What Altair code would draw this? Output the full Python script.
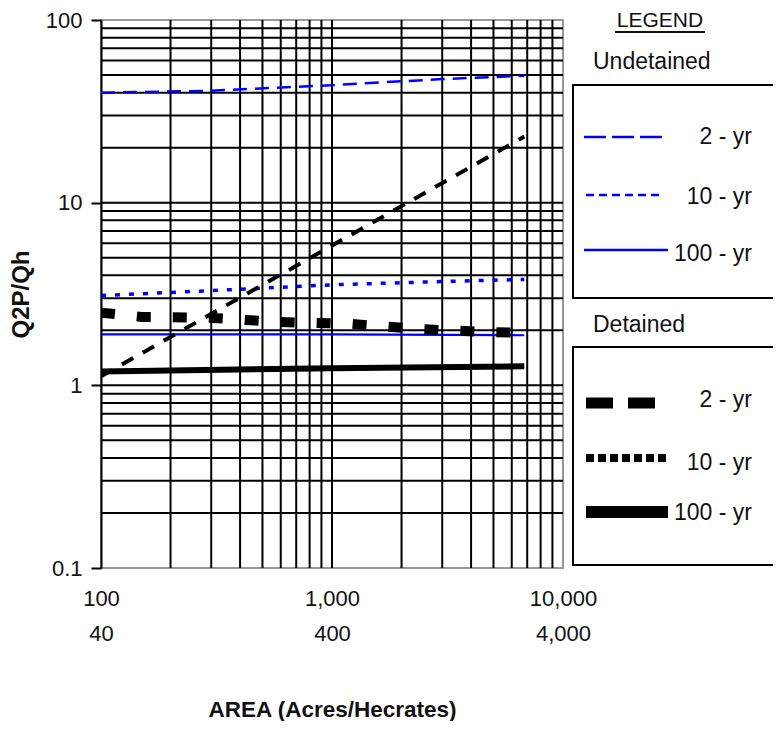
import altair as alt
import pandas as pd

# ---------------- data ----------------
und2_x = [100, 300, 1000, 3000, 6800]
und2_y = [40, 41, 44, 47.5, 49.5]

und10_x = [100, 300, 1000, 3000, 6800]
und10_y = [3.1, 3.3, 3.55, 3.7, 3.8]

und100_x = [100, 1000, 6800]
und100_y = [1.9, 1.9, 1.88]

det2_x = [100, 150, 300, 600, 1200, 2400, 4700, 6800]
det2_y = [2.5, 2.37, 2.34, 2.22, 2.17, 2.03, 1.96, 1.94]

diag_x = [100, 6800]
diag_y = [1.12, 23]

det100_x = [100, 1000, 6800]
det100_y = [1.19, 1.24, 1.27]

x_ticks = [100, 1000, 10000]
x_tick_labels = [["100", "40"], ["1,000", "400"], ["10,000", "4,000"]]
y_ticks = [0.1, 1, 10, 100]
y_tick_labels = ["0.1", "1", "10", "100"]

x_grid = [200, 300, 400, 500, 600, 700, 800, 900, 1000,
          2000, 3000, 4000, 5000, 6000, 7000, 8000, 9000]
y_grid = [0.2, 0.3, 0.4, 0.5, 0.6, 0.7, 0.8, 0.9, 1,
          2, 3, 4, 5, 6, 7, 8, 9, 10,
          20, 30, 40, 50, 60, 70, 80, 90]

legend_title = "LEGEND"
group_titles = ["Undetained", "Detained"]
period_labels = ["2 - yr", "10 - yr", "100 - yr"]

FONT = "Liberation Sans, Arial, sans-serif"
BLUE = "#0000FF"
TXT = "#111111"

# ---------------- axes ----------------
def lab_expr(vals, labs):
    expr = "''"
    for v, l in reversed(list(zip(vals, labs))):
        if isinstance(l, list):
            s = "[" + ",".join("'" + t + "'" for t in l) + "]"
        else:
            s = "'" + l + "'"
        expr = f"abs(datum.value - {v}) < {v}*0.01 ? {s} : ({expr})"
    return expr

x_scale = alt.Scale(type="log", domain=[100, 10000], nice=False)
y_scale = alt.Scale(type="log", domain=[0.1, 100], nice=False)

x_enc = alt.X("x:Q", scale=x_scale,
              axis=alt.Axis(values=x_ticks, labelExpr=lab_expr(x_ticks, x_tick_labels),
                            title="AREA (Acres/Hecrates)", grid=False, ticks=False,
                            domain=False, labelFont=FONT, labelFontSize=22,
                            labelColor=TXT, labelLineHeight=35, labelPadding=20,
                            labelBaseline="top", labelFlush=False,
                            titleFont=FONT, titleFontSize=22.5, titleFontWeight="bold",
                            titleColor=TXT, titlePadding=54))
y_enc = alt.Y("y:Q", scale=y_scale,
              axis=alt.Axis(values=y_ticks, labelExpr=lab_expr(y_ticks, y_tick_labels),
                            title="Q2P/Qh", grid=False, ticks=True, tickSize=10,
                            tickColor="black", tickWidth=2, domain=True,
                            domainColor="black", domainWidth=2,
                            labelFont=FONT, labelFontSize=22, labelColor=TXT,
                            labelPadding=9, labelFlush=False,
                            titleFont=FONT, titleFontSize=24, titleFontWeight="bold",
                            titleColor=TXT, titlePadding=12))

# ---------------- grid ----------------
vgrid = alt.Chart(pd.DataFrame({"x": x_grid})).mark_rule(color="black", strokeWidth=2).encode(x=x_enc)
hgrid = alt.Chart(pd.DataFrame({"y": y_grid})).mark_rule(color="black", strokeWidth=2).encode(y=y_enc)

# ---------------- series ----------------
series = [
    (und2_x, und2_y, BLUE, 2.5, [14, 8]),
    (und10_x, und10_y, BLUE, 3.5, [5, 9]),
    (und100_x, und100_y, BLUE, 2.2, None),
    (det2_x, det2_y, "black", 10, [14, 22]),
    (diag_x, diag_y, "black", 4, [13, 11]),
    (det100_x, det100_y, "black", 6, None),
]
line_layers = []
for xs, ys, col, w, dash in series:
    kw = dict(color=col, strokeWidth=w, clip=True)
    if dash:
        kw["strokeDash"] = dash
    line_layers.append(
        alt.Chart(pd.DataFrame({"x": xs, "y": ys})).mark_line(**kw).encode(x=x_enc, y=y_enc)
    )

# ---------------- legend (decoration, pixel positioned) ----------------
one = pd.DataFrame({"a": [0]})
leg = []
leg.append(alt.Chart(one).mark_text(font=FONT, fontSize=21, color=TXT, align="center",
                                    baseline="middle")
           .encode(x=alt.value(559), y=alt.value(1), text=alt.value(legend_title)))
leg.append(alt.Chart(one).mark_rule(color=TXT, strokeWidth=2)
           .encode(x=alt.value(514), x2=alt.value(604), y=alt.value(12)))

box_specs = [(65, 278), (327, 545)]
title_y = [42, 305]
BX1, BX2 = 472, 672
for (y1, y2), ty, gt in zip(box_specs, title_y, group_titles):
    # open-ended box: top, left and bottom edges (right edge runs off the page)
    leg.append(alt.Chart(one).mark_rule(color="black", strokeWidth=2)
               .encode(x=alt.value(BX1 - 1), x2=alt.value(BX2), y=alt.value(y1)))
    leg.append(alt.Chart(one).mark_rule(color="black", strokeWidth=2)
               .encode(x=alt.value(BX1 - 1), x2=alt.value(BX2), y=alt.value(y2)))
    leg.append(alt.Chart(one).mark_rule(color="black", strokeWidth=2)
               .encode(x=alt.value(BX1), y=alt.value(y1), y2=alt.value(y2)))
    leg.append(alt.Chart(one).mark_text(font=FONT, fontSize=23, color=TXT, align="left",
                                        baseline="middle")
               .encode(x=alt.value(492), y=alt.value(ty), text=alt.value(gt)))

leg_samples = [
    # (x1, x2, y, color, width, dash)
    (483, 567, 117, BLUE, 2.5, [22, 6]),
    (485, 561, 175, BLUE, 2.5, [8, 5]),
    (483, 567, 230, BLUE, 2.5, None),
    (485, 554, 383, "black", 11, [27, 15]),
    (485, 567, 438, "black", 8, [8, 4]),
    (485, 567, 492, "black", 12, None),
]
leg_text_y = [117, 177, 234, 380, 443, 493]
for i, (x1, x2, yy, col, w, dash) in enumerate(leg_samples):
    kw = dict(color=col, strokeWidth=w)
    if dash:
        kw["strokeDash"] = dash
    leg.append(alt.Chart(one).mark_rule(**kw)
               .encode(x=alt.value(x1), x2=alt.value(x2), y=alt.value(yy)))
    leg.append(alt.Chart(one).mark_text(font=FONT, fontSize=23, color=TXT, align="right",
                                        baseline="middle")
               .encode(x=alt.value(651), y=alt.value(leg_text_y[i]),
                       text=alt.value(period_labels[i % 3])))

chart = alt.layer(vgrid, hgrid, *line_layers, *leg).properties(
    width=462, height=548,
    autosize=alt.AutoSizeParams(type="none"),
    padding={"left": 93, "top": 12, "right": 211, "bottom": 153},
).configure_view(stroke="#999999", strokeWidth=2)

chart.save("out.html", embed_options={"renderer": "svg", "actions": False})
